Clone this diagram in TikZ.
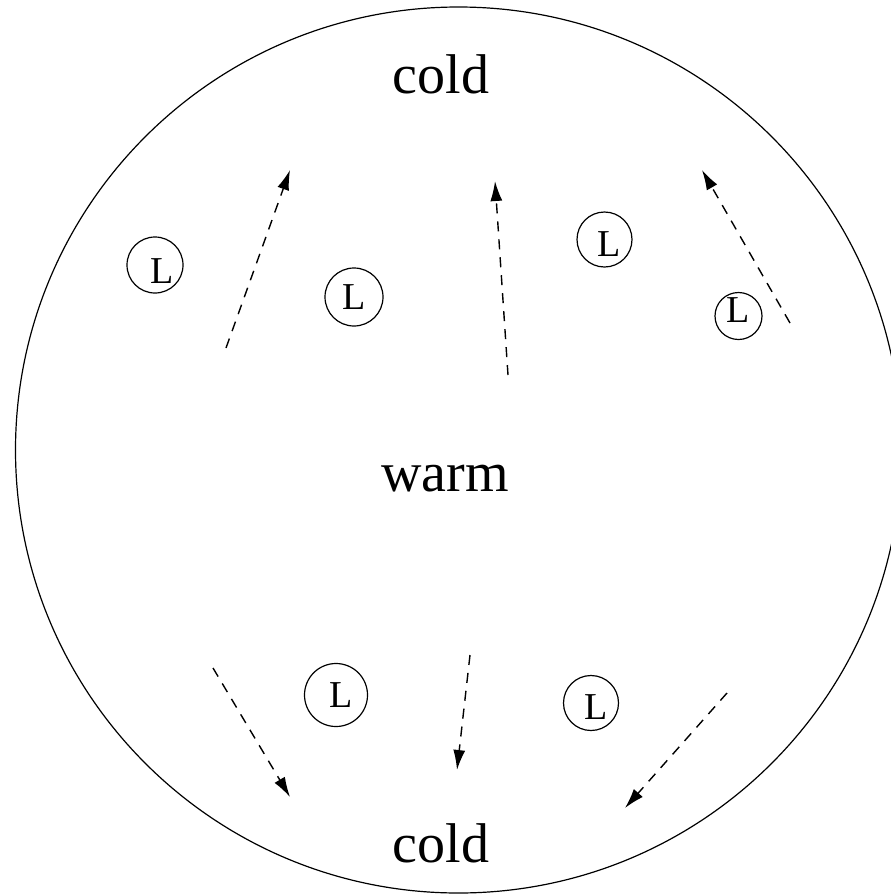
\documentclass[tikz,border=0pt]{standalone}
\usepackage{fontspec}
\setmainfont{Liberation Serif}
\usetikzlibrary{arrows.meta}
\begin{document}
\begin{tikzpicture}[x=1pt,y=-1pt,
  lbl/.style={font=\fontsize{56}{60}\selectfont, anchor=base, inner sep=0pt},
  lcirc/.style={draw, circle, line width=1.2pt, inner sep=0pt, font=\fontsize{38}{40}\selectfont},
  flow/.style={dash pattern=on 10pt off 8pt, line width=1.4pt, -{Latex[length=20pt,width=12pt]}}]
\useasboundingbox (0,0) rectangle (891,895);
\fill[white] (0,0) rectangle (891,895);
\begin{scope}
\clip (0,0) rectangle (891,895);
\draw[line width=1.2pt] (458.5,450) circle[radius=443];
\end{scope}
\node[lbl] (ct) at (441,93) {cold};
\node[lbl] (wm) at (445,491) {warm};
\node[lbl] (cb) at (441,862) {cold};
\node[lcirc, minimum size=56pt] (l1) at (155,265) {\raisebox{-6pt}[\height][0pt]{\hspace{14pt}L}};
\node[lcirc, minimum size=58pt] (l2) at (354,297) {L};
\node[lcirc, minimum size=55pt] (l3) at (604.5,239.5) {\raisebox{-5pt}[\height][0pt]{\hspace{9pt}L}};
\node[lcirc, minimum size=47pt] (l4) at (738.5,316) {\raisebox{6pt}[\height][0pt]{L}};
\node[lcirc, minimum size=63pt] (l5) at (336,695) {\hspace{10pt}L};
\node[lcirc, minimum size=55pt] (l6) at (591,703) {\raisebox{-4pt}[\height][0pt]{\hspace{10pt}L}};
\coordinate (a1s) at (226,348); \coordinate (a1e) at (290,170);
\coordinate (a2s) at (508,375); \coordinate (a2e) at (495,181);
\coordinate (a3s) at (790,323); \coordinate (a3e) at (702,170);
\coordinate (a4s) at (213,668); \coordinate (a4e) at (290,797);
\coordinate (a5s) at (470,655); \coordinate (a5e) at (457,770);
\coordinate (a6s) at (727,693); \coordinate (a6e) at (625,808);
\draw[flow] (a1s) -- (a1e);
\draw[flow] (a2s) -- (a2e);
\draw[flow] (a3s) -- (a3e);
\draw[flow] (a4s) -- (a4e);
\draw[flow] (a5s) -- (a5e);
\draw[flow] (a6s) -- (a6e);
\end{tikzpicture}
\end{document}
